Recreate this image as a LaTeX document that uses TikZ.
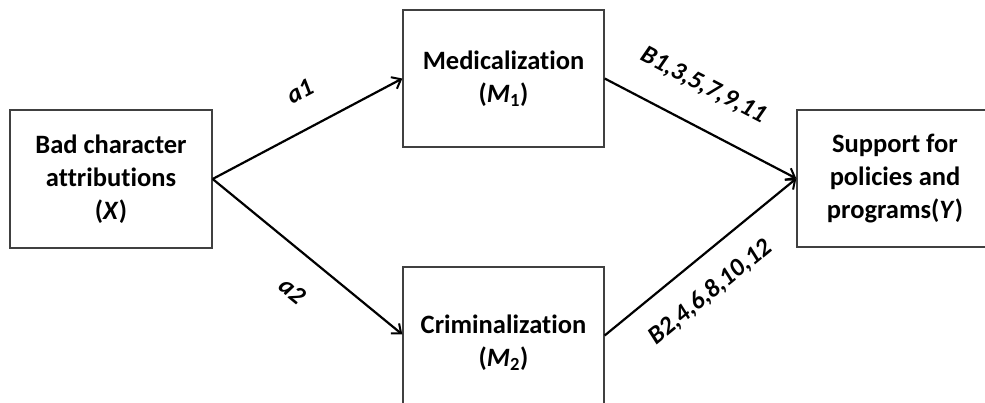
\documentclass[tikz,border=0pt]{standalone}
\usepackage{fontspec}
\setmainfont[Ligatures=NoCommon]{Carlito}
\usetikzlibrary{arrows.meta,positioning}

\begin{document}
\begin{tikzpicture}[x=1pt,y=1pt,font=\bfseries,>={Straight Barb[length=8pt,width=13pt,line width=2pt]},
box/.style={draw=black!75,line width=1.3pt,fill=white,align=center,inner sep=0pt,font=\bfseries\fontsize{26.5}{33}\selectfont},
arr/.style={->,line width=2.2pt},
coef/.style={sloped,inner sep=0pt,font=\bfseries\itshape\fontsize{25.5}{28}\selectfont}]
\clip (0,0) rectangle (985,403);
\useasboundingbox (0,0) rectangle (985,403);
\node[box,minimum width=202pt,minimum height=138pt] (x) at (111,224) {Bad character\\attributions\\(\textit{X})};
\node[box,minimum width=201pt,minimum height=137pt] (m1) at (503.5,324.5) {Medicalization\\(\textit{M}\textsubscript{1})};
\node[box,minimum width=201pt,minimum height=151pt] (m2) at (503.5,60.5) {Criminalization\\(\textit{M}\textsubscript{2})};
\node[box,minimum width=196pt,minimum height=137pt] (y) at (895,224.5) {Support for\\policies and\\programs(\textit{Y})};
\coordinate (m2in) at ([yshift=8pt]m2.west);
\coordinate (m2out) at ([yshift=7pt]m2.east);
\draw[arr] (x.east) -- node[coef,pos=0.55,above=27pt]{a1} (m1.west);
\draw[arr] (x.east) -- node[coef,pos=0.54,below=26pt]{a2} (m2in);
\draw[arr] (m1.east) -- node[coef,pos=0.42,above=28pt]{B1,3,5,7,9,11} (y.west);
\draw[arr] (m2out) -- node[coef,pos=0.44,below=22pt]{B2,4,6,8,10,12} (y.west);
\end{tikzpicture}
\end{document}
